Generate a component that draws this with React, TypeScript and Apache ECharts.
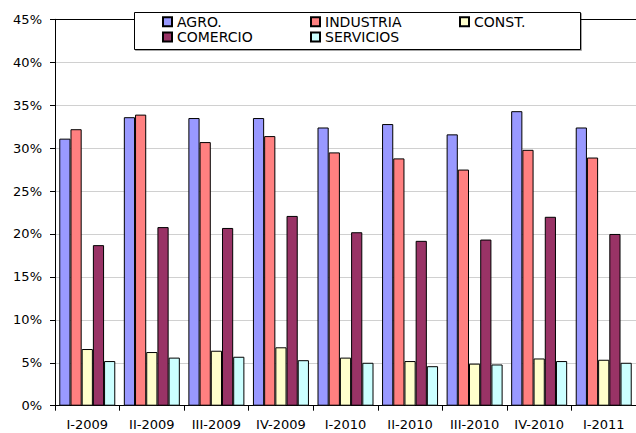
import React, { useEffect, useRef } from "react";
import * as echarts from "echarts";

const categories = ["I-2009", "II-2009", "III-2009", "IV-2009", "I-2010", "II-2010", "III-2010", "IV-2010", "I-2011"];
const seriesNames = ["AGRO.", "INDUSTRIA", "CONST.", "COMERCIO", "SERVICIOS"];
const agro = [31.1, 33.6, 33.5, 33.5, 32.4, 32.8, 31.6, 34.3, 32.4];
const industria = [32.2, 33.9, 30.7, 31.4, 29.5, 28.8, 27.5, 29.8, 28.9];
const construccion = [6.6, 6.25, 6.4, 6.8, 5.6, 5.2, 4.9, 5.5, 5.35];
const comercio = [18.7, 20.8, 20.7, 22.1, 20.2, 19.2, 19.35, 22.0, 20.0];
const servicios = [5.2, 5.6, 5.7, 5.3, 5.0, 4.6, 4.8, 5.2, 5.0];
const colors = ["#9999FF", "#FF8080", "#FFFFCC", "#993366", "#CCFFFF"];

const FONT = "DejaVu Sans";

export default function App() {
  const ref = useRef<HTMLDivElement>(null);
  useEffect(() => {
    if (!ref.current) return;
    const chart = echarts.init(ref.current, undefined, { renderer: "svg" });
    const values = [agro, industria, construccion, comercio, servicios];
    const gridColors = ["#d0d0d0", "#d0d0d0", "#d0d0d0", "#d0d0d0", "#d0d0d0", "#d0d0d0", "#d0d0d0", "#d0d0d0", "#d0d0d0", "#000000"];
    const legendCommon = {
      orient: "vertical" as const,
      top: 14,
      padding: 0,
      itemGap: 0,
      itemWidth: 9,
      itemHeight: 9,
      z: 20,
      icon: "rect",
      textStyle: { fontFamily: FONT, fontSize: 14, color: "#000", lineHeight: 15.3 },
    };
    chart.setOption({
      animation: false,
      backgroundColor: "#fff",
      grid: { left: 55, right: 0, top: 19.3, bottom: 27.3, containLabel: false },
      legend: [
        { ...legendCommon, left: 162, data: ["AGRO.", "COMERCIO"] },
        { ...legendCommon, left: 310, data: ["INDUSTRIA", "SERVICIOS"] },
        { ...legendCommon, left: 459, data: ["CONST."] },
      ],
      graphic: [
        {
          type: "rect",
          z: 10,
          shape: { x: 134.5, y: 12.5, width: 446, height: 37 },
          style: { fill: "#fff", stroke: "#000", lineWidth: 1, shadowColor: "rgba(0,0,0,0.35)", shadowOffsetX: 1, shadowOffsetY: 1, shadowBlur: 1 },
        },
      ],
      xAxis: {
        type: "category",
        data: categories,
        axisLine: { lineStyle: { color: "#000", width: 1 } },
        axisTick: { show: true, length: 5, alignWithLabel: false, lineStyle: { color: "#000" } },
        axisLabel: { fontFamily: FONT, fontSize: 13, color: "#000", margin: 12, interval: 0 },
      },
      yAxis: {
        type: "value",
        min: 0,
        max: 45,
        interval: 5,
        axisLine: { show: true, lineStyle: { color: "#000", width: 1 } },
        axisTick: { show: true, length: 5, lineStyle: { color: "#000" } },
        axisLabel: { fontFamily: FONT, fontSize: 13, color: "#000", margin: 13, formatter: "{value}%" },
        splitLine: { show: true, lineStyle: { color: gridColors, width: 1 } },
      },
      series: seriesNames.map((name, i) => ({
        name,
        type: "bar",
        data: values[i],
        barWidth: 11.2,
        barGap: "0%",
        itemStyle: { color: colors[i], borderColor: "#000", borderWidth: 1 },
      })),
    });
    return () => chart.dispose();
  }, []);
  return <div ref={ref} style={{ position: "fixed", left: 0, top: 0, width: 636, height: 433 }} />;
}
